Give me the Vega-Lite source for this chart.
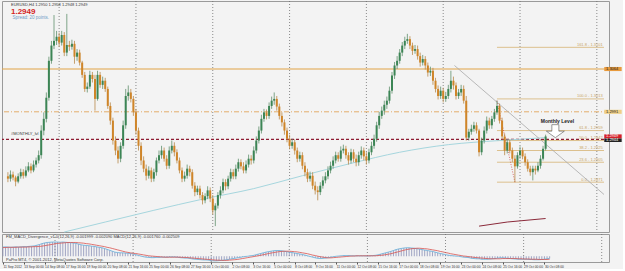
{
"$schema": "https://vega.github.io/schema/vega-lite/v6.json",
"padding": 0,
"background": "#f3f3f3",
"spacing": 2,
"bounds": "flush",
"config": {
 "view": {"stroke": "#9a9a9a", "strokeWidth": 1},
 "font": "Liberation Sans",
 "axis": {"labelFont": "Liberation Sans", "labelFontSize": 4, "labelColor": "#333333", "tickColor": "#555555", "tickSize": 2, "domainColor": "#444444", "grid": false, "labelPadding": 1}
},
"datasets": {
"bars": [
{"i":0,"o":1.2881,"h":1.2888,"l":1.2871,"c":1.2877,"m":0.0040,"s":0.0038},
{"i":1,"o":1.2877,"h":1.2891,"l":1.2872,"c":1.2884,"m":0.0041,"s":0.0038},
{"i":2,"o":1.2884,"h":1.2889,"l":1.2874,"c":1.2879,"m":0.0040,"s":0.0039},
{"i":3,"o":1.2879,"h":1.2882,"l":1.2864,"c":1.2872,"m":0.0039,"s":0.0039},
{"i":4,"o":1.2872,"h":1.2886,"l":1.2869,"c":1.2881,"m":0.0040,"s":0.0039},
{"i":5,"o":1.2881,"h":1.2894,"l":1.2877,"c":1.2888,"m":0.0041,"s":0.0039},
{"i":6,"o":1.2888,"h":1.2893,"l":1.2877,"c":1.2882,"m":0.0040,"s":0.0040},
{"i":7,"o":1.2882,"h":1.2898,"l":1.2879,"c":1.2891,"m":0.0041,"s":0.0040},
{"i":8,"o":1.2891,"h":1.2905,"l":1.2888,"c":1.2898,"m":0.0042,"s":0.0040},
{"i":9,"o":1.2898,"h":1.2903,"l":1.2886,"c":1.2891,"m":0.0042,"s":0.0040},
{"i":10,"o":1.2891,"h":1.2908,"l":1.2888,"c":1.2901,"m":0.0043,"s":0.0041},
{"i":11,"o":1.2901,"h":1.2913,"l":1.2896,"c":1.2908,"m":0.0044,"s":0.0041},
{"i":12,"o":1.2908,"h":1.2925,"l":1.2903,"c":1.2917,"m":0.0045,"s":0.0042},
{"i":13,"o":1.2917,"h":1.2968,"l":1.2911,"c":1.2959,"m":0.0048,"s":0.0042},
{"i":14,"o":1.2959,"h":1.2990,"l":1.2951,"c":1.2979,"m":0.0051,"s":0.0043},
{"i":15,"o":1.2979,"h":1.3024,"l":1.2973,"c":1.3015,"m":0.0055,"s":0.0044},
{"i":16,"o":1.3015,"h":1.3085,"l":1.3010,"c":1.3078,"m":0.0058,"s":0.0046},
{"i":17,"o":1.3078,"h":1.3112,"l":1.3073,"c":1.3104,"m":0.0060,"s":0.0048},
{"i":18,"o":1.3104,"h":1.3156,"l":1.3098,"c":1.3112,"m":0.0061,"s":0.0050},
{"i":19,"o":1.3112,"h":1.3129,"l":1.3105,"c":1.3119,"m":0.0062,"s":0.0052},
{"i":20,"o":1.3119,"h":1.3126,"l":1.3102,"c":1.3109,"m":0.0062,"s":0.0054},
{"i":21,"o":1.3109,"h":1.3129,"l":1.3104,"c":1.3122,"m":0.0062,"s":0.0056},
{"i":22,"o":1.3122,"h":1.3127,"l":1.3086,"c":1.3092,"m":0.0061,"s":0.0057},
{"i":23,"o":1.3092,"h":1.3158,"l":1.3086,"c":1.3105,"m":0.0062,"s":0.0058},
{"i":24,"o":1.3105,"h":1.3112,"l":1.3095,"c":1.3102,"m":0.0061,"s":0.0059},
{"i":25,"o":1.3102,"h":1.3114,"l":1.3097,"c":1.3107,"m":0.0060,"s":0.0060},
{"i":26,"o":1.3107,"h":1.3112,"l":1.3073,"c":1.3085,"m":0.0059,"s":0.0060},
{"i":27,"o":1.3085,"h":1.3098,"l":1.3078,"c":1.3092,"m":0.0058,"s":0.0060},
{"i":28,"o":1.3092,"h":1.3097,"l":1.3070,"c":1.3075,"m":0.0056,"s":0.0060},
{"i":29,"o":1.3075,"h":1.3078,"l":1.3049,"c":1.3054,"m":0.0053,"s":0.0059},
{"i":30,"o":1.3054,"h":1.3059,"l":1.3025,"c":1.3030,"m":0.0050,"s":0.0058},
{"i":31,"o":1.3030,"h":1.3041,"l":1.3024,"c":1.3034,"m":0.0048,"s":0.0057},
{"i":32,"o":1.3034,"h":1.3061,"l":1.3030,"c":1.3054,"m":0.0047,"s":0.0055},
{"i":33,"o":1.3054,"h":1.3059,"l":1.3041,"c":1.3047,"m":0.0046,"s":0.0054},
{"i":34,"o":1.3047,"h":1.3054,"l":1.2993,"c":1.3013,"m":0.0044,"s":0.0052},
{"i":35,"o":1.3013,"h":1.3061,"l":1.3010,"c":1.3054,"m":0.0043,"s":0.0050},
{"i":36,"o":1.3054,"h":1.3059,"l":1.3032,"c":1.3037,"m":0.0041,"s":0.0048},
{"i":37,"o":1.3037,"h":1.3051,"l":1.3030,"c":1.3044,"m":0.0039,"s":0.0046},
{"i":38,"o":1.3044,"h":1.3049,"l":1.3025,"c":1.3030,"m":0.0037,"s":0.0044},
{"i":39,"o":1.3030,"h":1.3034,"l":1.2996,"c":1.3001,"m":0.0034,"s":0.0042},
{"i":40,"o":1.3001,"h":1.3007,"l":1.2969,"c":1.2976,"m":0.0030,"s":0.0039},
{"i":41,"o":1.2976,"h":1.2981,"l":1.2935,"c":1.2942,"m":0.0026,"s":0.0037},
{"i":42,"o":1.2942,"h":1.2949,"l":1.2917,"c":1.2925,"m":0.0022,"s":0.0034},
{"i":43,"o":1.2925,"h":1.2932,"l":1.2903,"c":1.2911,"m":0.0018,"s":0.0031},
{"i":44,"o":1.2911,"h":1.2939,"l":1.2905,"c":1.2933,"m":0.0016,"s":0.0028},
{"i":45,"o":1.2933,"h":1.2976,"l":1.2928,"c":1.2968,"m":0.0015,"s":0.0025},
{"i":46,"o":1.2968,"h":1.3030,"l":1.2962,"c":1.3018,"m":0.0015,"s":0.0022},
{"i":47,"o":1.3018,"h":1.3036,"l":1.3010,"c":1.3024,"m":0.0014,"s":0.0019},
{"i":48,"o":1.3024,"h":1.3030,"l":1.3007,"c":1.3013,"m":0.0013,"s":0.0017},
{"i":49,"o":1.3013,"h":1.3018,"l":1.2984,"c":1.2990,"m":0.0012,"s":0.0015},
{"i":50,"o":1.2990,"h":1.2996,"l":1.2952,"c":1.2959,"m":0.0010,"s":0.0013},
{"i":51,"o":1.2959,"h":1.2964,"l":1.2925,"c":1.2933,"m":0.0007,"s":0.0012},
{"i":52,"o":1.2933,"h":1.2939,"l":1.2900,"c":1.2908,"m":0.0004,"s":0.0010},
{"i":53,"o":1.2908,"h":1.2915,"l":1.2888,"c":1.2894,"m":0.0001,"s":0.0008},
{"i":54,"o":1.2894,"h":1.2901,"l":1.2874,"c":1.2882,"m":-0.0002,"s":0.0006},
{"i":55,"o":1.2882,"h":1.2898,"l":1.2877,"c":1.2891,"m":-0.0004,"s":0.0004},
{"i":56,"o":1.2891,"h":1.2896,"l":1.2871,"c":1.2877,"m":-0.0005,"s":0.0002},
{"i":57,"o":1.2877,"h":1.2894,"l":1.2872,"c":1.2888,"m":-0.0006,"s":0.0001},
{"i":58,"o":1.2888,"h":1.2913,"l":1.2882,"c":1.2908,"m":-0.0006,"s":0.0000},
{"i":59,"o":1.2908,"h":1.2925,"l":1.2903,"c":1.2917,"m":-0.0005,"s":-0.0001},
{"i":60,"o":1.2917,"h":1.2933,"l":1.2911,"c":1.2925,"m":-0.0005,"s":-0.0002},
{"i":61,"o":1.2925,"h":1.2930,"l":1.2906,"c":1.2911,"m":-0.0004,"s":-0.0003},
{"i":62,"o":1.2911,"h":1.2917,"l":1.2893,"c":1.2899,"m":-0.0004,"s":-0.0004},
{"i":63,"o":1.2899,"h":1.2932,"l":1.2894,"c":1.2925,"m":-0.0004,"s":-0.0004},
{"i":64,"o":1.2925,"h":1.2942,"l":1.2920,"c":1.2933,"m":-0.0003,"s":-0.0004},
{"i":65,"o":1.2933,"h":1.2939,"l":1.2915,"c":1.2922,"m":-0.0003,"s":-0.0004},
{"i":66,"o":1.2922,"h":1.2927,"l":1.2903,"c":1.2908,"m":-0.0003,"s":-0.0004},
{"i":67,"o":1.2908,"h":1.2913,"l":1.2886,"c":1.2891,"m":-0.0004,"s":-0.0004},
{"i":68,"o":1.2891,"h":1.2896,"l":1.2871,"c":1.2877,"m":-0.0006,"s":-0.0004},
{"i":69,"o":1.2877,"h":1.2889,"l":1.2872,"c":1.2882,"m":-0.0007,"s":-0.0005},
{"i":70,"o":1.2882,"h":1.2901,"l":1.2877,"c":1.2894,"m":-0.0008,"s":-0.0005},
{"i":71,"o":1.2894,"h":1.2899,"l":1.2881,"c":1.2888,"m":-0.0008,"s":-0.0006},
{"i":72,"o":1.2888,"h":1.2893,"l":1.2860,"c":1.2865,"m":-0.0010,"s":-0.0007},
{"i":73,"o":1.2865,"h":1.2871,"l":1.2847,"c":1.2854,"m":-0.0012,"s":-0.0008},
{"i":74,"o":1.2854,"h":1.2865,"l":1.2849,"c":1.2860,"m":-0.0013,"s":-0.0009},
{"i":75,"o":1.2860,"h":1.2865,"l":1.2843,"c":1.2849,"m":-0.0014,"s":-0.0010},
{"i":76,"o":1.2849,"h":1.2854,"l":1.2833,"c":1.2840,"m":-0.0015,"s":-0.0011},
{"i":77,"o":1.2840,"h":1.2852,"l":1.2835,"c":1.2847,"m":-0.0016,"s":-0.0012},
{"i":78,"o":1.2847,"h":1.2864,"l":1.2842,"c":1.2857,"m":-0.0016,"s":-0.0013},
{"i":79,"o":1.2857,"h":1.2862,"l":1.2837,"c":1.2843,"m":-0.0017,"s":-0.0014},
{"i":80,"o":1.2843,"h":1.2849,"l":1.2816,"c":1.2823,"m":-0.0019,"s":-0.0015},
{"i":81,"o":1.2823,"h":1.2835,"l":1.2796,"c":1.2831,"m":-0.0020,"s":-0.0016},
{"i":82,"o":1.2831,"h":1.2854,"l":1.2826,"c":1.2849,"m":-0.0020,"s":-0.0017},
{"i":83,"o":1.2849,"h":1.2864,"l":1.2843,"c":1.2857,"m":-0.0019,"s":-0.0017},
{"i":84,"o":1.2857,"h":1.2877,"l":1.2852,"c":1.2871,"m":-0.0018,"s":-0.0018},
{"i":85,"o":1.2871,"h":1.2876,"l":1.2857,"c":1.2864,"m":-0.0017,"s":-0.0018},
{"i":86,"o":1.2864,"h":1.2882,"l":1.2859,"c":1.2877,"m":-0.0015,"s":-0.0018},
{"i":87,"o":1.2877,"h":1.2894,"l":1.2872,"c":1.2888,"m":-0.0013,"s":-0.0017},
{"i":88,"o":1.2888,"h":1.2893,"l":1.2876,"c":1.2881,"m":-0.0011,"s":-0.0016},
{"i":89,"o":1.2881,"h":1.2901,"l":1.2876,"c":1.2894,"m":-0.0009,"s":-0.0015},
{"i":90,"o":1.2894,"h":1.2911,"l":1.2889,"c":1.2905,"m":-0.0007,"s":-0.0014},
{"i":91,"o":1.2905,"h":1.2910,"l":1.2893,"c":1.2898,"m":-0.0005,"s":-0.0012},
{"i":92,"o":1.2898,"h":1.2905,"l":1.2886,"c":1.2891,"m":-0.0003,"s":-0.0010},
{"i":93,"o":1.2891,"h":1.2908,"l":1.2886,"c":1.2901,"m":-0.0001,"s":-0.0008},
{"i":94,"o":1.2901,"h":1.2918,"l":1.2896,"c":1.2911,"m":0.0000,"s":-0.0006},
{"i":95,"o":1.2911,"h":1.2917,"l":1.2901,"c":1.2908,"m":0.0002,"s":-0.0004},
{"i":96,"o":1.2908,"h":1.2932,"l":1.2903,"c":1.2925,"m":0.0003,"s":-0.0002},
{"i":97,"o":1.2925,"h":1.2949,"l":1.2920,"c":1.2942,"m":0.0006,"s":0.0000},
{"i":98,"o":1.2942,"h":1.2966,"l":1.2937,"c":1.2959,"m":0.0009,"s":0.0002},
{"i":99,"o":1.2959,"h":1.2986,"l":1.2954,"c":1.2979,"m":0.0012,"s":0.0004},
{"i":100,"o":1.2979,"h":1.2996,"l":1.2974,"c":1.2990,"m":0.0015,"s":0.0007},
{"i":101,"o":1.2990,"h":1.2995,"l":1.2978,"c":1.2984,"m":0.0018,"s":0.0009},
{"i":102,"o":1.2984,"h":1.3007,"l":1.2979,"c":1.3001,"m":0.0020,"s":0.0012},
{"i":103,"o":1.3001,"h":1.3017,"l":1.2996,"c":1.3010,"m":0.0022,"s":0.0014},
{"i":104,"o":1.3010,"h":1.3024,"l":1.3003,"c":1.3013,"m":0.0024,"s":0.0016},
{"i":105,"o":1.3013,"h":1.3018,"l":1.2993,"c":1.3000,"m":0.0025,"s":0.0018},
{"i":106,"o":1.3000,"h":1.3005,"l":1.2978,"c":1.2984,"m":0.0025,"s":0.0020},
{"i":107,"o":1.2984,"h":1.2990,"l":1.2966,"c":1.2973,"m":0.0024,"s":0.0021},
{"i":108,"o":1.2973,"h":1.2978,"l":1.2952,"c":1.2959,"m":0.0022,"s":0.0022},
{"i":109,"o":1.2959,"h":1.2964,"l":1.2939,"c":1.2945,"m":0.0020,"s":0.0022},
{"i":110,"o":1.2945,"h":1.2952,"l":1.2927,"c":1.2933,"m":0.0018,"s":0.0022},
{"i":111,"o":1.2933,"h":1.2945,"l":1.2928,"c":1.2939,"m":0.0016,"s":0.0021},
{"i":112,"o":1.2939,"h":1.2944,"l":1.2918,"c":1.2925,"m":0.0014,"s":0.0020},
{"i":113,"o":1.2925,"h":1.2930,"l":1.2905,"c":1.2911,"m":0.0012,"s":0.0019},
{"i":114,"o":1.2911,"h":1.2923,"l":1.2906,"c":1.2917,"m":0.0010,"s":0.0017},
{"i":115,"o":1.2917,"h":1.2922,"l":1.2893,"c":1.2899,"m":0.0008,"s":0.0015},
{"i":116,"o":1.2899,"h":1.2905,"l":1.2881,"c":1.2888,"m":0.0005,"s":0.0013},
{"i":117,"o":1.2888,"h":1.2894,"l":1.2871,"c":1.2877,"m":0.0002,"s":0.0011},
{"i":118,"o":1.2877,"h":1.2889,"l":1.2872,"c":1.2882,"m":-0.0001,"s":0.0008},
{"i":119,"o":1.2882,"h":1.2888,"l":1.2859,"c":1.2865,"m":-0.0004,"s":0.0005},
{"i":120,"o":1.2865,"h":1.2872,"l":1.2850,"c":1.2857,"m":-0.0007,"s":0.0003},
{"i":121,"o":1.2857,"h":1.2864,"l":1.2840,"c":1.2854,"m":-0.0009,"s":0.0000},
{"i":122,"o":1.2854,"h":1.2871,"l":1.2849,"c":1.2865,"m":-0.0010,"s":-0.0002},
{"i":123,"o":1.2865,"h":1.2881,"l":1.2860,"c":1.2874,"m":-0.0009,"s":-0.0004},
{"i":124,"o":1.2874,"h":1.2888,"l":1.2869,"c":1.2881,"m":-0.0008,"s":-0.0006},
{"i":125,"o":1.2881,"h":1.2898,"l":1.2876,"c":1.2891,"m":-0.0006,"s":-0.0007},
{"i":126,"o":1.2891,"h":1.2906,"l":1.2886,"c":1.2899,"m":-0.0004,"s":-0.0007},
{"i":127,"o":1.2899,"h":1.2915,"l":1.2894,"c":1.2908,"m":-0.0002,"s":-0.0006},
{"i":128,"o":1.2908,"h":1.2923,"l":1.2903,"c":1.2917,"m":0.0000,"s":-0.0005},
{"i":129,"o":1.2917,"h":1.2922,"l":1.2906,"c":1.2911,"m":0.0001,"s":-0.0004},
{"i":130,"o":1.2911,"h":1.2932,"l":1.2906,"c":1.2925,"m":0.0002,"s":-0.0003},
{"i":131,"o":1.2925,"h":1.2935,"l":1.2920,"c":1.2928,"m":0.0003,"s":-0.0002},
{"i":132,"o":1.2928,"h":1.2933,"l":1.2911,"c":1.2917,"m":0.0003,"s":-0.0001},
{"i":133,"o":1.2917,"h":1.2922,"l":1.2901,"c":1.2908,"m":0.0003,"s":0.0000},
{"i":134,"o":1.2908,"h":1.2928,"l":1.2903,"c":1.2922,"m":0.0002,"s":0.0001},
{"i":135,"o":1.2922,"h":1.2927,"l":1.2905,"c":1.2911,"m":0.0002,"s":0.0001},
{"i":136,"o":1.2911,"h":1.2918,"l":1.2898,"c":1.2905,"m":0.0002,"s":0.0002},
{"i":137,"o":1.2905,"h":1.2923,"l":1.2899,"c":1.2917,"m":0.0002,"s":0.0002},
{"i":138,"o":1.2917,"h":1.2932,"l":1.2911,"c":1.2925,"m":0.0002,"s":0.0002},
{"i":139,"o":1.2925,"h":1.2930,"l":1.2908,"c":1.2915,"m":0.0002,"s":0.0002},
{"i":140,"o":1.2915,"h":1.2922,"l":1.2901,"c":1.2908,"m":0.0001,"s":0.0002},
{"i":141,"o":1.2908,"h":1.2928,"l":1.2903,"c":1.2922,"m":0.0002,"s":0.0002},
{"i":142,"o":1.2922,"h":1.2940,"l":1.2917,"c":1.2933,"m":0.0003,"s":0.0002},
{"i":143,"o":1.2933,"h":1.2952,"l":1.2928,"c":1.2945,"m":0.0004,"s":0.0002},
{"i":144,"o":1.2945,"h":1.2974,"l":1.2940,"c":1.2968,"m":0.0006,"s":0.0003},
{"i":145,"o":1.2968,"h":1.2991,"l":1.2962,"c":1.2984,"m":0.0009,"s":0.0004},
{"i":146,"o":1.2984,"h":1.3000,"l":1.2979,"c":1.2993,"m":0.0012,"s":0.0005},
{"i":147,"o":1.2993,"h":1.3010,"l":1.2986,"c":1.3003,"m":0.0015,"s":0.0007},
{"i":148,"o":1.3003,"h":1.3017,"l":1.2996,"c":1.3010,"m":0.0018,"s":0.0009},
{"i":149,"o":1.3010,"h":1.3034,"l":1.3005,"c":1.3027,"m":0.0021,"s":0.0011},
{"i":150,"o":1.3027,"h":1.3059,"l":1.3022,"c":1.3053,"m":0.0025,"s":0.0014},
{"i":151,"o":1.3053,"h":1.3076,"l":1.3047,"c":1.3070,"m":0.0029,"s":0.0017},
{"i":152,"o":1.3070,"h":1.3086,"l":1.3064,"c":1.3078,"m":0.0032,"s":0.0020},
{"i":153,"o":1.3078,"h":1.3098,"l":1.3073,"c":1.3092,"m":0.0034,"s":0.0023},
{"i":154,"o":1.3092,"h":1.3110,"l":1.3086,"c":1.3104,"m":0.0036,"s":0.0026},
{"i":155,"o":1.3104,"h":1.3119,"l":1.3098,"c":1.3112,"m":0.0037,"s":0.0029},
{"i":156,"o":1.3112,"h":1.3124,"l":1.3107,"c":1.3115,"m":0.0037,"s":0.0031},
{"i":157,"o":1.3115,"h":1.3120,"l":1.3098,"c":1.3104,"m":0.0036,"s":0.0033},
{"i":158,"o":1.3104,"h":1.3109,"l":1.3088,"c":1.3095,"m":0.0035,"s":0.0034},
{"i":159,"o":1.3095,"h":1.3105,"l":1.3090,"c":1.3098,"m":0.0033,"s":0.0035},
{"i":160,"o":1.3098,"h":1.3104,"l":1.3080,"c":1.3086,"m":0.0031,"s":0.0035},
{"i":161,"o":1.3086,"h":1.3092,"l":1.3068,"c":1.3075,"m":0.0029,"s":0.0034},
{"i":162,"o":1.3075,"h":1.3088,"l":1.3070,"c":1.3081,"m":0.0027,"s":0.0033},
{"i":163,"o":1.3081,"h":1.3086,"l":1.3063,"c":1.3070,"m":0.0025,"s":0.0032},
{"i":164,"o":1.3070,"h":1.3075,"l":1.3051,"c":1.3058,"m":0.0023,"s":0.0030},
{"i":165,"o":1.3058,"h":1.3068,"l":1.3052,"c":1.3061,"m":0.0021,"s":0.0028},
{"i":166,"o":1.3061,"h":1.3066,"l":1.3037,"c":1.3044,"m":0.0018,"s":0.0026},
{"i":167,"o":1.3044,"h":1.3049,"l":1.3024,"c":1.3030,"m":0.0015,"s":0.0024},
{"i":168,"o":1.3030,"h":1.3036,"l":1.3012,"c":1.3018,"m":0.0012,"s":0.0021},
{"i":169,"o":1.3018,"h":1.3034,"l":1.3013,"c":1.3027,"m":0.0010,"s":0.0019},
{"i":170,"o":1.3027,"h":1.3032,"l":1.3007,"c":1.3013,"m":0.0007,"s":0.0016},
{"i":171,"o":1.3013,"h":1.3025,"l":1.3008,"c":1.3018,"m":0.0005,"s":0.0014},
{"i":172,"o":1.3018,"h":1.3037,"l":1.3013,"c":1.3030,"m":0.0003,"s":0.0011},
{"i":173,"o":1.3030,"h":1.3061,"l":1.3024,"c":1.3044,"m":0.0002,"s":0.0009},
{"i":174,"o":1.3044,"h":1.3051,"l":1.3029,"c":1.3036,"m":0.0001,"s":0.0007},
{"i":175,"o":1.3036,"h":1.3041,"l":1.3012,"c":1.3018,"m":0.0000,"s":0.0005},
{"i":176,"o":1.3018,"h":1.3030,"l":1.3013,"c":1.3024,"m":-0.0002,"s":0.0003},
{"i":177,"o":1.3024,"h":1.3037,"l":1.3018,"c":1.3030,"m":-0.0004,"s":0.0001},
{"i":178,"o":1.3030,"h":1.3036,"l":1.3005,"c":1.3010,"m":-0.0005,"s":0.0000},
{"i":179,"o":1.3010,"h":1.3018,"l":1.2942,"c":1.2947,"m":-0.0006,"s":-0.0002},
{"i":180,"o":1.2947,"h":1.2962,"l":1.2942,"c":1.2957,"m":-0.0009,"s":-0.0003},
{"i":181,"o":1.2957,"h":1.2969,"l":1.2952,"c":1.2962,"m":-0.0010,"s":-0.0005},
{"i":182,"o":1.2962,"h":1.2974,"l":1.2957,"c":1.2968,"m":-0.0011,"s":-0.0006},
{"i":183,"o":1.2968,"h":1.2973,"l":1.2954,"c":1.2959,"m":-0.0011,"s":-0.0007},
{"i":184,"o":1.2959,"h":1.2962,"l":1.2915,"c":1.2922,"m":-0.0013,"s":-0.0008},
{"i":185,"o":1.2922,"h":1.2947,"l":1.2917,"c":1.2942,"m":-0.0013,"s":-0.0009},
{"i":186,"o":1.2942,"h":1.2966,"l":1.2937,"c":1.2959,"m":-0.0013,"s":-0.0010},
{"i":187,"o":1.2959,"h":1.2983,"l":1.2954,"c":1.2976,"m":-0.0012,"s":-0.0011},
{"i":188,"o":1.2976,"h":1.2981,"l":1.2962,"c":1.2968,"m":-0.0011,"s":-0.0011},
{"i":189,"o":1.2968,"h":1.2984,"l":1.2962,"c":1.2979,"m":-0.0010,"s":-0.0011},
{"i":190,"o":1.2979,"h":1.2996,"l":1.2974,"c":1.2990,"m":-0.0008,"s":-0.0011},
{"i":191,"o":1.2990,"h":1.3010,"l":1.2986,"c":1.3001,"m":-0.0007,"s":-0.0011},
{"i":192,"o":1.3001,"h":1.3005,"l":1.2971,"c":1.2976,"m":-0.0007,"s":-0.0010},
{"i":193,"o":1.2976,"h":1.2981,"l":1.2944,"c":1.2949,"m":-0.0008,"s":-0.0010},
{"i":194,"o":1.2949,"h":1.2954,"l":1.2917,"c":1.2925,"m":-0.0009,"s":-0.0010},
{"i":195,"o":1.2925,"h":1.2944,"l":1.2920,"c":1.2939,"m":-0.0010,"s":-0.0010},
{"i":196,"o":1.2939,"h":1.2944,"l":1.2920,"c":1.2925,"m":-0.0011,"s":-0.0010},
{"i":197,"o":1.2925,"h":1.2930,"l":1.2905,"c":1.2911,"m":-0.0012,"s":-0.0010},
{"i":198,"o":1.2911,"h":1.2917,"l":1.2871,"c":1.2898,"m":-0.0013,"s":-0.0011},
{"i":199,"o":1.2898,"h":1.2922,"l":1.2894,"c":1.2917,"m":-0.0013,"s":-0.0011},
{"i":200,"o":1.2917,"h":1.2932,"l":1.2911,"c":1.2925,"m":-0.0013,"s":-0.0012},
{"i":201,"o":1.2925,"h":1.2930,"l":1.2910,"c":1.2915,"m":-0.0013,"s":-0.0012},
{"i":202,"o":1.2915,"h":1.2920,"l":1.2899,"c":1.2905,"m":-0.0014,"s":-0.0012},
{"i":203,"o":1.2905,"h":1.2910,"l":1.2889,"c":1.2894,"m":-0.0014,"s":-0.0013},
{"i":204,"o":1.2894,"h":1.2899,"l":1.2882,"c":1.2888,"m":-0.0015,"s":-0.0013},
{"i":205,"o":1.2888,"h":1.2899,"l":1.2874,"c":1.2894,"m":-0.0015,"s":-0.0013},
{"i":206,"o":1.2894,"h":1.2899,"l":1.2884,"c":1.2891,"m":-0.0015,"s":-0.0014},
{"i":207,"o":1.2891,"h":1.2905,"l":1.2888,"c":1.2899,"m":-0.0014,"s":-0.0014},
{"i":208,"o":1.2899,"h":1.2917,"l":1.2894,"c":1.2911,"m":-0.0013,"s":-0.0014},
{"i":209,"o":1.2911,"h":1.2933,"l":1.2908,"c":1.2928,"m":-0.0011,"s":-0.0014},
{"i":210,"o":1.2928,"h":1.2952,"l":1.2925,"c":1.2949,"m":-0.0009,"s":-0.0013}
]
},
"vconcat": [
{
 "width": 607, "height": 231,
 "layer": [
  {"data": {"values": [{"i":20},{"i":50},{"i":80},{"i":110},{"i":140},{"i":170},{"i":200},{"i":230}]},
   "mark": {"type": "rule", "color": "#6e6e6e", "strokeWidth": 0.8, "strokeDash": [1, 2]},
   "encoding": {"x": {"field": "i", "type": "quantitative", "scale": {"domain": [-0.36, 232.8], "nice": false, "zero": false}, "axis": null}}},
  {"data": {"values": [{"p": 1.3064}]},
   "mark": {"type": "rule", "color": "#e2a347", "strokeWidth": 1.2},
   "encoding": {"y": {"field": "p", "type": "quantitative", "scale": {"domain": [1.2786, 1.3180], "nice": false, "zero": false}, "axis": null}}},
  {"data": {"values": [{"p": 1.2991}]},
   "mark": {"type": "rule", "color": "#e3ad6c", "strokeWidth": 1, "strokeDash": [5, 2, 1, 2]},
   "encoding": {"y": {"field": "p", "type": "quantitative", "axis": null}}},
  {"data": {"values": [{"p": 1.2944}]},
   "mark": {"type": "rule", "color": "#8e1b32", "strokeWidth": 1.2, "strokeDash": [3, 2]},
   "encoding": {"y": {"field": "p", "type": "quantitative", "axis": null}}},
  {"data": {"values": [{"p": 1.3101, "t": "161.8 - 1.3101"}, {"p": 1.3013, "t": "100.0 - 1.3013"}, {"p": 1.2959, "t": "61.8 - 1.2959"}, {"p": 1.2942, "t": "50.0 - 1.2942"}, {"p": 1.2925, "t": "38.2 - 1.2925"}, {"p": 1.2905, "t": "23.6 - 1.2905"}, {"p": 1.2871, "t": "0.0 - 1.2871"}]},
   "mark": {"type": "rule", "color": "#dcc08e", "strokeWidth": 1},
   "encoding": {"x": {"datum": 191, "type": "quantitative", "axis": null}, "x2": {"datum": 232.8}, "y": {"field": "p", "type": "quantitative", "axis": null}}},
  {"data": {"values": [{"p": 1.3101, "t": "161.8 - 1.3101"}, {"p": 1.3013, "t": "100.0 - 1.3013"}, {"p": 1.2959, "t": "61.8 - 1.2959"}, {"p": 1.2942, "t": "50.0 - 1.2942"}, {"p": 1.2925, "t": "38.2 - 1.2925"}, {"p": 1.2905, "t": "23.6 - 1.2905"}, {"p": 1.2871, "t": "0.0 - 1.2871"}]},
   "mark": {"type": "text", "align": "right", "baseline": "bottom", "dy": -0.5, "fontSize": 4, "color": "#c9a667"},
   "encoding": {"x": {"datum": 232.3, "type": "quantitative", "axis": null}, "y": {"field": "p", "type": "quantitative", "axis": null}, "text": {"field": "t"}}},
  {"data": {"values": [{"i": 22, "p": 1.2786}, {"i": 38, "p": 1.2803}, {"i": 57, "p": 1.2823}, {"i": 76, "p": 1.2842}, {"i": 96, "p": 1.2860}, {"i": 115, "p": 1.2882}, {"i": 134, "p": 1.2903}, {"i": 153, "p": 1.2922}, {"i": 172, "p": 1.2935}, {"i": 192, "p": 1.2942}, {"i": 210, "p": 1.2947}]},
   "mark": {"type": "line", "color": "#a6d6de", "strokeWidth": 1, "interpolate": "monotone"},
   "encoding": {"x": {"field": "i", "type": "quantitative", "axis": null}, "y": {"field": "p", "type": "quantitative", "axis": null}}},
  {"data": {"values": [{"i": 184, "p": 1.2796}, {"i": 195, "p": 1.2803}, {"i": 210, "p": 1.2809}]},
   "mark": {"type": "line", "color": "#8b2a3a", "strokeWidth": 1},
   "encoding": {"x": {"field": "i", "type": "quantitative", "axis": null}, "y": {"field": "p", "type": "quantitative", "axis": null}}},
  {"data": {"values": [{"i": 174.4, "p": 1.3070}, {"i": 232.8, "p": 1.2850}]},
   "mark": {"type": "line", "color": "#a8a8a8", "strokeWidth": 0.8},
   "encoding": {"x": {"field": "i", "type": "quantitative", "axis": null}, "y": {"field": "p", "type": "quantitative", "axis": null}}},
  {"data": {"values": [{"i": 191, "p": 1.3010}, {"i": 198, "p": 1.2871}]},
   "mark": {"type": "line", "color": "#d24a4a", "strokeWidth": 0.8, "strokeDash": [1, 1.5]},
   "encoding": {"x": {"field": "i", "type": "quantitative", "axis": null}, "y": {"field": "p", "type": "quantitative", "axis": null}}},
  {"data": {"name": "bars"},
   "mark": {"type": "rule", "strokeWidth": 0.8},
   "encoding": {
    "x": {"field": "i", "type": "quantitative", "axis": null},
    "y": {"field": "l", "type": "quantitative", "axis": {"orient": "right", "title": null, "values": [1.279, 1.281, 1.283, 1.285, 1.287, 1.289, 1.291, 1.293, 1.295, 1.297, 1.299, 1.301, 1.303, 1.305, 1.307, 1.309, 1.311, 1.313, 1.315, 1.317], "format": ".4f", "minExtent": 18, "maxExtent": 18, "labelOverlap": false, "labelFlush": false}},
    "y2": {"field": "h"},
    "color": {"condition": {"test": "datum.c >= datum.o", "value": "#5f8f6c"}, "value": "#b8894a"}}},
  {"data": {"name": "bars"},
   "mark": {"type": "bar", "size": 2},
   "encoding": {
    "x": {"field": "i", "type": "quantitative", "axis": null},
    "y": {"field": "o", "type": "quantitative", "axis": null},
    "y2": {"field": "c"},
    "color": {"condition": {"test": "datum.c >= datum.o", "value": "#3c8555"}, "value": "#cf8529"}}},
  {"data": {"values": [{"lo": 1.30605, "hi": 1.30675}]},
   "mark": {"type": "rect", "color": "#e89a3c", "clip": false},
   "encoding": {"x": {"datum": 232.9, "type": "quantitative", "axis": null}, "x2": {"datum": 239.7}, "y": {"field": "lo", "type": "quantitative", "axis": null}, "y2": {"field": "hi"}}},
  {"data": {"values": [{"lo": 1.29875, "hi": 1.29945}]},
   "mark": {"type": "rect", "color": "#efcf86", "clip": false},
   "encoding": {"x": {"datum": 232.9, "type": "quantitative", "axis": null}, "x2": {"datum": 239.7}, "y": {"field": "lo", "type": "quantitative", "axis": null}, "y2": {"field": "hi"}}},
  {"data": {"values": [{"lo": 1.29455, "hi": 1.29525}]},
   "mark": {"type": "rect", "color": "#d41f2a", "clip": false},
   "encoding": {"x": {"datum": 232.9, "type": "quantitative", "axis": null}, "x2": {"datum": 239.7}, "y": {"field": "lo", "type": "quantitative", "axis": null}, "y2": {"field": "hi"}}},
  {"data": {"values": [{"lo": 1.29395, "hi": 1.29455}]},
   "mark": {"type": "rect", "color": "#222222", "clip": false},
   "encoding": {"x": {"datum": 232.9, "type": "quantitative", "axis": null}, "x2": {"datum": 239.7}, "y": {"field": "lo", "type": "quantitative", "axis": null}, "y2": {"field": "hi"}}},
  {"data": {"values": [{"p": 1.3064, "t": "1.3064"}, {"p": 1.2991, "t": "1.2991"}]},
   "mark": {"type": "text", "align": "left", "baseline": "middle", "fontSize": 4, "color": "#222222"},
   "encoding": {"x": {"datum": 233.6, "type": "quantitative", "axis": null}, "y": {"field": "p", "type": "quantitative", "axis": null}, "text": {"field": "t"}}},
  {"data": {"values": [{"p": 1.2949, "t": "1.2949"}, {"p": 1.29425, "t": "1.2944"}]},
   "mark": {"type": "text", "align": "left", "baseline": "middle", "fontSize": 4, "color": "#ffffff"},
   "encoding": {"x": {"datum": 233.6, "type": "quantitative", "axis": null}, "y": {"field": "p", "type": "quantitative", "axis": null}, "text": {"field": "t"}}},
  {"data": {"values": [{"i": 1.2, "p": 1.2948, "t": "#MONTHLY_lvl"}]},
   "mark": {"type": "text", "align": "left", "baseline": "bottom", "dy": -1, "fontSize": 4, "color": "#333333"},
   "encoding": {"x": {"field": "i", "type": "quantitative", "axis": null}, "y": {"field": "p", "type": "quantitative", "axis": null}, "text": {"field": "t"}}},
  {"data": {"values": [{"i": 1.2, "p": 1.3173, "t": "EURUSD,H4  1.2950 1.2958 1.2948 1.2949"}]},
   "mark": {"type": "text", "align": "left", "baseline": "middle", "fontSize": 4, "color": "#333333"},
   "encoding": {"x": {"field": "i", "type": "quantitative", "axis": null}, "y": {"field": "p", "type": "quantitative", "axis": null}, "text": {"field": "t"}}},
  {"data": {"values": [{"i": 1.2, "p": 1.3162, "t": "1.2949"}]},
   "mark": {"type": "text", "align": "left", "baseline": "middle", "fontSize": 8, "fontWeight": "bold", "color": "#d41f1f"},
   "encoding": {"x": {"field": "i", "type": "quantitative", "axis": null}, "y": {"field": "p", "type": "quantitative", "axis": null}, "text": {"field": "t"}}},
  {"data": {"values": [{"i": 1.8, "p": 1.3151, "t": "Spread: 20 points."}]},
   "mark": {"type": "text", "align": "left", "baseline": "middle", "fontSize": 4.5, "color": "#6f9cc8"},
   "encoding": {"x": {"field": "i", "type": "quantitative", "axis": null}, "y": {"field": "p", "type": "quantitative", "axis": null}, "text": {"field": "t"}}},
  {"data": {"values": [{"i": 214.6, "p": 1.2976, "t": "Monthly Level"}]},
   "mark": {"type": "text", "align": "center", "baseline": "middle", "fontSize": 5, "fontWeight": "bold", "color": "#222222"},
   "encoding": {"x": {"field": "i", "type": "quantitative", "axis": null}, "y": {"field": "p", "type": "quantitative", "axis": null}, "text": {"field": "t"}}},
  {"data": {"values": [{"i": 213.8, "p": 1.2958}]},
   "mark": {"type": "point", "filled": true, "fill": "#ffffff", "stroke": "#555555", "strokeWidth": 0.6, "opacity": 1, "size": 400, "shape": "M-0.35,-0.65 L0.35,-0.65 L0.35,0 L0.9,0 L0,0.65 L-0.9,0 L-0.35,0 Z"},
   "encoding": {"x": {"field": "i", "type": "quantitative", "axis": null}, "y": {"field": "p", "type": "quantitative", "axis": null}}}
 ]
},
{
 "width": 607, "height": 28,
 "encoding": {"x": {"field": "i", "type": "quantitative", "scale": {"domain": [-0.36, 232.8], "nice": false, "zero": false},
   "axis": {"title": null, "values": [0, 8, 16, 24, 32, 40, 48, 56, 64, 72, 80, 88, 96, 104, 112, 120, 128, 136, 144, 152, 160, 168, 176, 184, 192, 200, 208],
    "labelExpr": "['11 Sep 2012','13 Sep 00:00','14 Sep 08:00','17 Sep 16:00','19 Sep 00:00','20 Sep 08:00','21 Sep 16:00','25 Sep 00:00','26 Sep 08:00','27 Sep 16:00','1 Oct 00:00','2 Oct 08:00','3 Oct 16:00','5 Oct 00:00','8 Oct 08:00','9 Oct 16:00','11 Oct 00:00','12 Oct 08:00','15 Oct 16:00','17 Oct 00:00','18 Oct 08:00','19 Oct 16:00','23 Oct 00:00','24 Oct 08:00','25 Oct 16:00','29 Oct 00:00','30 Oct 08:00'][round(datum.value/8)]",
    "labelAlign": "left", "labelFontSize": 3.3, "labelFlush": false, "labelOverlap": false, "labelBound": false, "domain": false, "labelPadding": 0.5}}},
 "layer": [
  {"data": {"values": [{"i":20},{"i":50},{"i":80},{"i":110},{"i":140},{"i":170},{"i":200},{"i":230}]},
   "mark": {"type": "rule", "color": "#6e6e6e", "strokeWidth": 0.8, "strokeDash": [1, 2]}},
  {"data": {"name": "bars"},
   "mark": {"type": "rule", "color": "#8a90b8", "strokeWidth": 0.8},
   "encoding": {"y": {"field": "m", "type": "quantitative", "scale": {"domain": [-0.0025, 0.0097], "nice": false, "zero": false},
     "axis": {"orient": "right", "title": null, "values": [0.0097, 0], "labelExpr": "datum.value == 0 ? '0.00' : '0.009665'", "minExtent": 18, "maxExtent": 18, "labelFlush": false}},
    "y2": {"datum": 0}}},
  {"data": {"name": "bars"},
   "mark": {"type": "line", "color": "#62acd8", "strokeWidth": 0.8},
   "encoding": {"y": {"field": "m", "type": "quantitative", "axis": null}}},
  {"data": {"name": "bars"},
   "mark": {"type": "line", "color": "#d9534f", "strokeWidth": 0.8},
   "encoding": {"y": {"field": "s", "type": "quantitative", "axis": null}}},
  {"data": {"values": [{"i": 1.2, "v": 0.0082, "t": "FM_MACD_Divergence_v1.0(12,26,9) -0.001999 -0.002090  MACD(12,26,9) -0.001760 -0.002509"}, {"i": 1.2, "v": -0.0017, "t": "PaPro MT4, © 2001-2012, MetaQuotes Software Corp."}]},
   "mark": {"type": "text", "align": "left", "baseline": "middle", "fontSize": 4, "color": "#333333"},
   "encoding": {"y": {"field": "v", "type": "quantitative", "axis": null}, "text": {"field": "t"}}}
 ]
}
]
}
